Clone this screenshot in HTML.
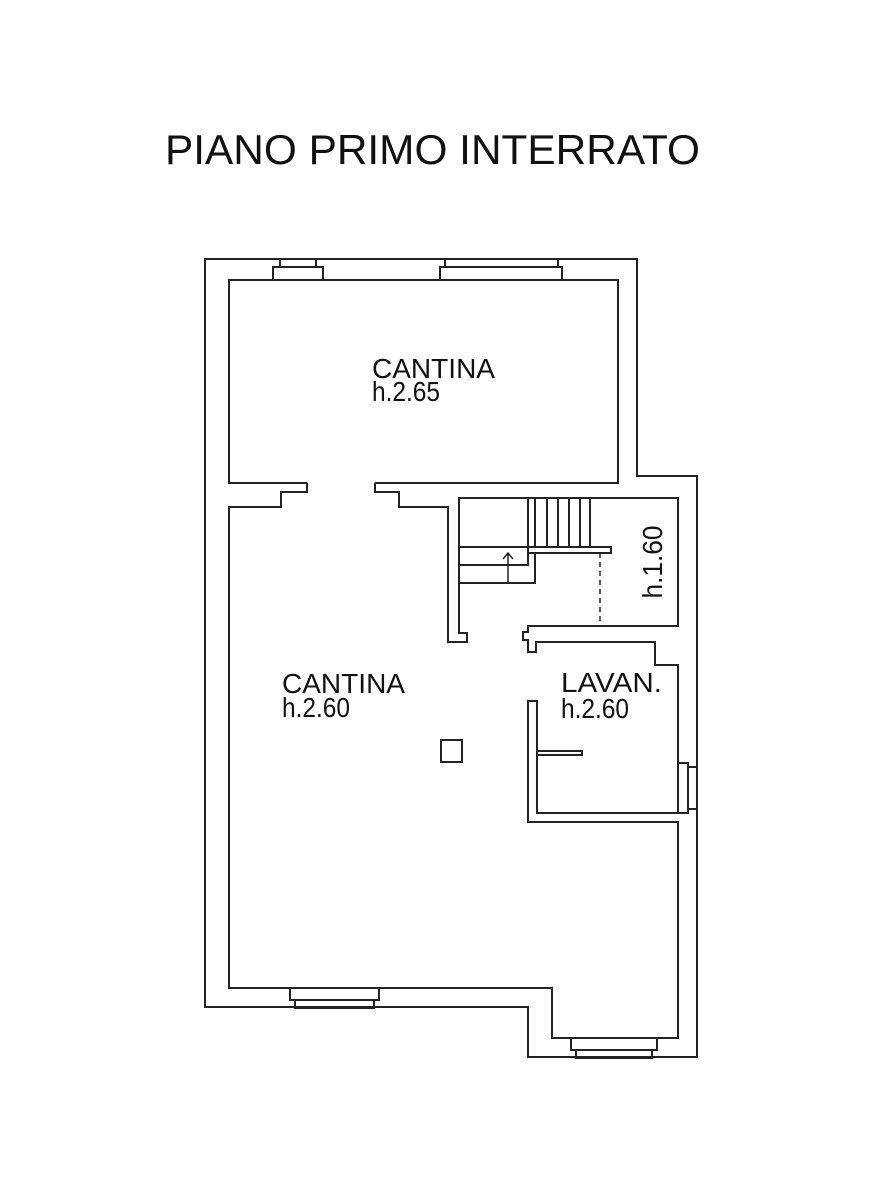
<!DOCTYPE html>
<html><head><meta charset="utf-8"><style>
html,body{margin:0;padding:0;background:#fff;}
svg{display:block;}
text{font-family:"Liberation Sans",Arial,sans-serif;fill:#111;}
</style></head><body>
<svg width="896" height="1200" viewBox="0 0 896 1200" xmlns="http://www.w3.org/2000/svg">
<rect width="896" height="1200" fill="#fff"/>
<text x="165" y="164" font-size="42" textLength="535" lengthAdjust="spacingAndGlyphs">PIANO PRIMO INTERRATO</text>
<g fill="none" stroke="#222" stroke-width="2" stroke-linejoin="miter">
<!-- outer wall -->
<path d="M205 259 H637 V476 H697 V1057 H528 V1007 H205 Z"/>
<!-- upper cantina -->
<path d="M307 483 H229 V280 H618 V483 H375"/>
<!-- left door jamb + lower cantina -->
<path d="M307 483 V492 H281 V507 H229 V988 H552 V1038 H678 V822 H528 V701 H537 V813 H678 V665 H655 V642 H536 V652 H528 V640 H523 V632 H528 V626 H678 V498 H459 V633 H467 V642 H448 V507 H399 V492 H375 V483"/>
<!-- lavan partition -->
<path d="M537 751 H582 V755 H537"/>
<!-- right window -->
<rect x="678" y="763" width="10" height="50"/>
<rect x="688" y="767" width="9" height="42"/>
<!-- top windows -->
<rect x="273" y="267" width="50" height="13"/>
<rect x="280" y="259" width="36" height="8"/>
<rect x="440" y="267" width="122" height="13"/>
<rect x="445" y="259" width="113" height="8"/>
<!-- bottom windows -->
<rect x="290" y="988" width="89" height="12"/>
<rect x="295" y="1000" width="79" height="8"/>
<rect x="571" y="1038" width="86" height="12"/>
<rect x="576" y="1050" width="76" height="8"/>
<!-- pillar -->
<rect x="441" y="740" width="21" height="22"/>
<!-- stairs -->
<path d="M528 498 V547 M535 498 V547 M547 498 V547 M558 498 V547 M569 498 V547 M580 498 V547 M590 498 V547"/>
<path d="M459 547 H611 V553 H528"/>
<path d="M528 547 V565 H459 M459 583 H535 V553"/>
<path d="M508 583 V553 M503 559 L508 553 L513 559" stroke-width="1.5"/>
<path d="M600 553 V626" stroke-dasharray="5,4" stroke-width="1.5"/>
</g>
<text x="372" y="378" font-size="28" textLength="123" lengthAdjust="spacingAndGlyphs">CANTINA</text>
<text x="372" y="401" font-size="28" textLength="68" lengthAdjust="spacingAndGlyphs">h.2.65</text>
<text x="282" y="693" font-size="28" textLength="123" lengthAdjust="spacingAndGlyphs">CANTINA</text>
<text x="282" y="717" font-size="28" textLength="68" lengthAdjust="spacingAndGlyphs">h.2.60</text>
<text x="561" y="692" font-size="28" textLength="101" lengthAdjust="spacingAndGlyphs">LAVAN.</text>
<text x="561" y="718" font-size="28" textLength="68" lengthAdjust="spacingAndGlyphs">h.2.60</text>
<text x="0" y="0" font-size="28" text-anchor="middle" transform="translate(662 562) rotate(-90)" textLength="73" lengthAdjust="spacingAndGlyphs">h.1.60</text>
</svg>
</body></html>
